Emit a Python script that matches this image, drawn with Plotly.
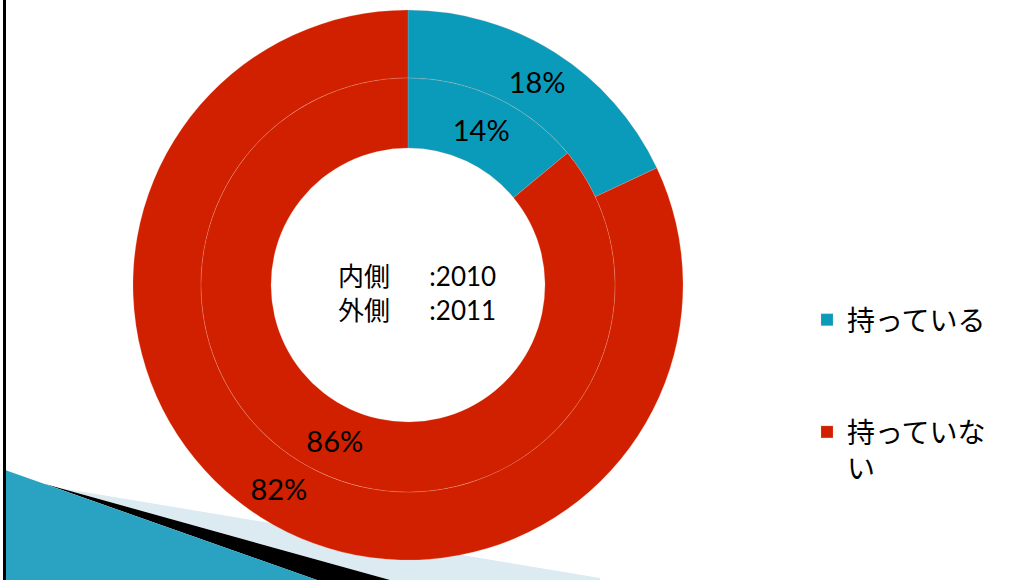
import plotly.graph_objects as go

# ---- data ----
categories = ["持っている", "持っていない"]
values_2010 = [14, 86]   # inner ring
values_2011 = [18, 82]   # outer ring
colors = ["#0B9BBA", "#D02000"]

# legend display labels (wrapped like the slide)
legend_labels = ["持っている<br>\u00a0<br>\u00a0", "持っていな<br>い"]

W, H = 1032, 580
cx, cy = 408, 285          # pie centre in px (from top)
r_out, r_mid, r_in = 275, 207, 137

def dom(r):
    x0 = (cx - r) / W
    x1 = (cx + r) / W
    yc = H - cy
    return dict(x=[x0, x1], y=[(yc - r) / H, (yc + r) / H])

font_fam = "Lato, 'Noto Sans CJK JP', sans-serif"

fig = go.Figure()
fig.add_trace(go.Pie(
    labels=legend_labels, values=values_2011, name="2011",
    domain=dom(r_out), hole=r_mid / r_out,
    sort=False, direction="clockwise", rotation=0,
    marker=dict(colors=colors, line=dict(color="rgba(255,190,170,0.35)", width=0.6)),
    textinfo="percent", texttemplate="%{value}%", textposition="inside",
    insidetextorientation="horizontal",
    insidetextfont=dict(size=29, color="black", family=font_fam),
    showlegend=True,
))
fig.add_trace(go.Pie(
    labels=legend_labels, values=values_2010, name="2010",
    domain=dom(r_mid), hole=r_in / r_mid,
    sort=False, direction="clockwise", rotation=0,
    marker=dict(colors=colors, line=dict(color="rgba(255,190,170,0.35)", width=0.6)),
    textinfo="percent", texttemplate="%{value}%", textposition="inside",
    insidetextorientation="horizontal",
    insidetextfont=dict(size=29, color="black", family=font_fam),
    showlegend=False,
))

# slide decorations (left border, bottom-left swoosh)
shapes = [
    dict(type="path", xref="paper", yref="paper", layer="below",
         path=f"M {60/W},{1-488/H} L {600/W},{1-578/H} L {600/W},0 L {390/W},0 Z",
         fillcolor="#DCEAF1", line=dict(width=0)),
    dict(type="path", xref="paper", yref="paper", layer="above",
         path=f"M {45/W},{1-484/H} L {390/W},0 L {317/W},0 Z",
         fillcolor="black", line=dict(width=0)),
    dict(type="path", xref="paper", yref="paper", layer="above",
         path=f"M {5/W},{1-470/H} L {317/W},0 L {5/W},0 Z",
         fillcolor="#2AA3C2", line=dict(width=0)),
    dict(type="line", xref="paper", yref="paper", layer="above",
         x0=4.5/W, x1=4.5/W, y0=0, y1=1, line=dict(color="black", width=3)),
]

fig.update_layout(
    width=W, height=H,
    margin=dict(l=0, r=0, t=0, b=0),
    paper_bgcolor="white", plot_bgcolor="white",
    font=dict(family=font_fam, color="black"),
    shapes=shapes,
    legend=dict(x=807 / W, xanchor="left", y=1 - 295 / H, yanchor="top",
                font=dict(size=28, color="black", family=font_fam),
                valign="top", bgcolor="rgba(0,0,0,0)"),
    annotations=[dict(
        x=(cx + 9) / W, y=1 - (cy + 8) / H, xref="paper", yref="paper",
        text="内側\u3000\u00a0\u00a0:2010<br>外側\u3000\u00a0\u00a0:2011",
        showarrow=False, align="left",
        font=dict(size=26, color="black", family=font_fam),
    )],
)

fig.write_html("out.html", config={"displayModeBar": False},
               post_script="document.body.style.margin='0px';")
